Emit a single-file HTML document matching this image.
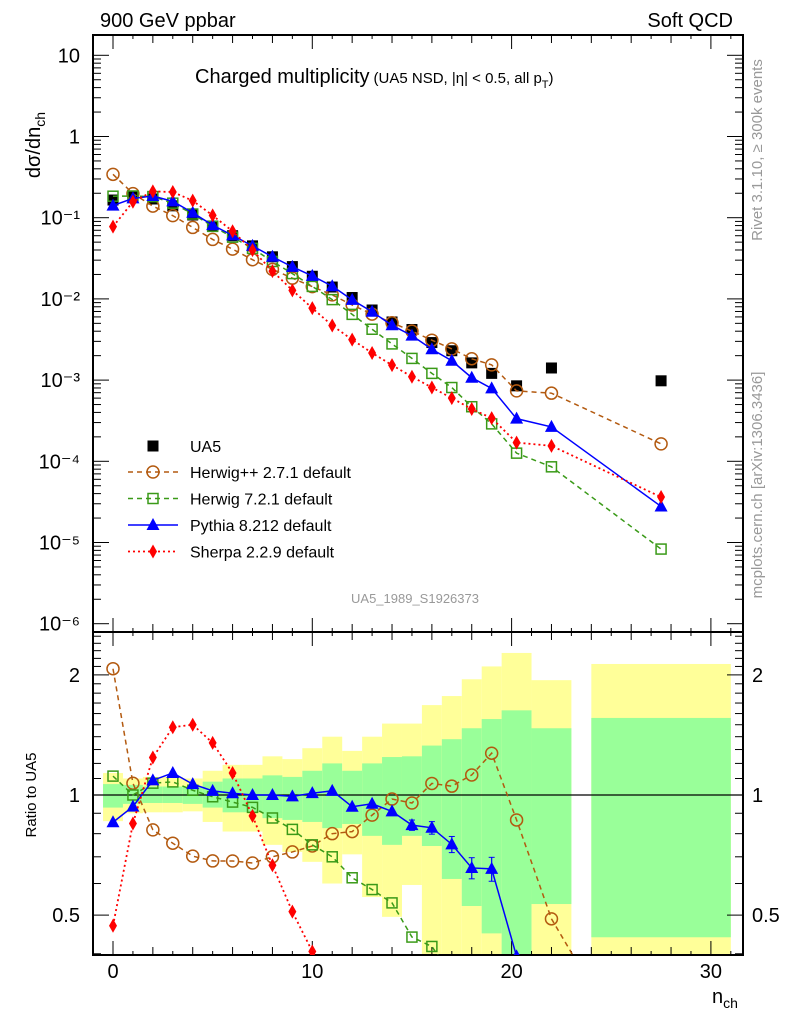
<!DOCTYPE html>
<html><head><meta charset="utf-8"><style>
html,body{margin:0;padding:0;background:#fff;overflow:hidden;width:786px;height:1024px}
svg{display:block;font-family:"Liberation Sans",sans-serif}
</style></head><body>
<svg id="c" width="786" height="1024" viewBox="0 0 786 1024" xmlns="http://www.w3.org/2000/svg">
<defs>
<clipPath id="clipTop"><rect x="93" y="35" width="650" height="597"/></clipPath>
<clipPath id="clipRat"><rect x="93" y="632" width="650" height="323"/></clipPath>
</defs>
<g id="bands" clip-path="url(#clipRat)"></g>
<g id="frame"></g>
<g id="top" clip-path="url(#clipTop)"></g>
<g id="rat" clip-path="url(#clipRat)"></g>
<g id="labels">
<text x="100" y="27" font-size="20">900 GeV ppbar</text>
<text x="733" y="27" font-size="20" text-anchor="end">Soft QCD</text>
<text x="195" y="83" font-size="20">Charged multiplicity<tspan font-size="15" dx="4">(UA5 NSD, |η| &lt; 0.5, all p</tspan><tspan font-size="11" dy="5">T</tspan><tspan font-size="15" dy="-5">)</tspan></text>
<text transform="translate(40,112) rotate(-90)" font-size="20" text-anchor="end">dσ/dn<tspan font-size="14" dy="5">ch</tspan></text>
<text transform="translate(36,795) rotate(-90)" font-size="15" text-anchor="middle">Ratio to UA5</text>
<text x="712" y="1003" font-size="20">n<tspan font-size="14" dy="5">ch</tspan></text>
<text transform="translate(762,150) rotate(-90)" font-size="15" fill="#999" text-anchor="middle">Rivet 3.1.10, ≥ 300k events</text>
<text transform="translate(762,485) rotate(-90)" font-size="15" fill="#999" text-anchor="middle">mcplots.cern.ch [arXiv:1306.3436]</text>
<text x="415" y="603" font-size="13" fill="#999" text-anchor="middle">UA5_1989_S1926373</text>
</g>
<g id="legend"></g>
</svg>
<script>
const xs = [0,1,2,3,4,5,6,7,8,9,10,11,12,13,14,15,16,17,18,19,20.25,22,27.5];
const binLo = [-0.5,0.5,1.5,2.5,3.5,4.5,5.5,6.5,7.5,8.5,9.5,10.5,11.5,12.5,13.5,14.5,15.5,16.5,17.5,18.5,19.5,21,24];
const binHi = [0.5,1.5,2.5,3.5,4.5,5.5,6.5,7.5,8.5,9.5,10.5,11.5,12.5,13.5,14.5,15.5,16.5,17.5,18.5,19.5,21,23,31];
const ua5 = [0.165,0.185,0.17,0.14,0.108,0.079,0.06,0.045,0.033,0.025,0.019,0.014,0.0104,0.0073,0.0052,0.0042,0.0029,0.0023,0.00163,0.00121,0.00085,0.00141,0.00098];
const herwigpp = [0.342,0.198,0.139,0.106,0.0759,0.054,0.041,0.0304,0.0231,0.018,0.01416,0.0112,0.00842,0.0065,0.00508,0.00401,0.0031,0.00242,0.00183,0.00154,0.000736,0.00069,0.000164];
const herwig7 = [0.184,0.185,0.182,0.151,0.111,0.0782,0.0576,0.0419,0.0289,0.0205,0.01425,0.0098,0.00645,0.00423,0.00279,0.00185,0.00121,0.00081,0.00047,0.000289,0.000126,0.0000855,0.0000083];
const pythia = [0.141,0.173,0.185,0.159,0.115,0.0809,0.0606,0.045,0.033,0.0248,0.0192,0.01434,0.00972,0.00694,0.00473,0.00353,0.0024,0.00173,0.00107,0.00079,0.000335,0.000265,0.0000278];
const pythiaRatioErr = [0,0,0,0,0,0,0,0,0,0,0,0,0,0,0,0.025,0.03,0.035,0.04,0.045,0,0,0];
const sherpa = [0.0776,0.157,0.211,0.207,0.162,0.1067,0.0681,0.0399,0.022,0.01275,0.0077,0.0047,0.00315,0.00216,0.00153,0.0011,0.00081,0.0006,0.00044,0.00034,0.00017,0.000155,0.0000363];
const yellowHi = [1.135,1.10,1.11,1.11,1.10,1.15,1.19,1.19,1.25,1.23,1.31,1.40,1.29,1.40,1.51,1.51,1.68,1.77,1.95,2.10,2.27,1.94,2.13];
const greenHi = [1.065,1.06,1.05,1.05,1.05,1.08,1.10,1.10,1.12,1.11,1.15,1.20,1.15,1.20,1.245,1.25,1.33,1.38,1.47,1.55,1.63,1.47,1.56];
const greenLo = [0.93,0.95,0.955,0.955,0.95,0.93,0.905,0.905,0.875,0.866,0.856,0.826,0.846,0.79,0.75,0.79,0.745,0.616,0.527,0.45,0.35,0.533,0.44];
const yellowLo = [0.86,0.90,0.905,0.905,0.91,0.856,0.81,0.81,0.75,0.72,0.68,0.60,0.71,0.555,0.495,0.595,0.35,0.35,0.35,0.35,0.35,0.35,0.35];
const yTickLabels = ["10","1","10⁻¹","10⁻²","10⁻³","10⁻⁴","10⁻⁵","10⁻⁶"];
const xTickLabels = ["0","10","20","30"];
const ratioTickLabels = ["0.5","1","2"];

const NS="http://www.w3.org/2000/svg";
const X=v=>113+19.93*v;
const Y=v=>136.5-81.2*Math.log10(v);
const R=v=>795-399*Math.log10(v);
function mk(parent,tag,attrs){const e=document.createElementNS(NS,tag);for(const k in attrs)e.setAttribute(k,attrs[k]);document.getElementById(parent).appendChild(e);return e;}

for(let i=0;i<xs.length;i++){
  let e=mk('bands','rect',{x:X(binLo[i]),y:R(yellowHi[i]),width:X(binHi[i])-X(binLo[i]),height:R(yellowLo[i])-R(yellowHi[i]),fill:'#ffff99'});
  
  
  e=mk('bands','rect',{x:X(binLo[i]),y:R(greenHi[i]),width:X(binHi[i])-X(binLo[i]),height:R(greenLo[i])-R(greenHi[i]),fill:'#99ff99'});
  
  
}
let f=mk('frame','rect',{x:93,y:35,width:650,height:920,fill:'none',stroke:'#000','stroke-width':2});


mk('frame','line',{x1:93,x2:743,y1:632,y2:632,stroke:'#000','stroke-width':2});
mk('frame','line',{x1:93,x2:743,y1:R(1),y2:R(1),stroke:'#000','stroke-width':1.2});
for(let v=-1;v<=31;v++){
  const L=v%10===0?14:(v%2===0?8:4);
  [[35,1],[632,-1],[632,1],[955,-1]].forEach(([y0,d])=>mk('frame','line',{x1:X(v),x2:X(v),y1:y0,y2:y0+d*L,stroke:'#000','stroke-width':1}));
}
xTickLabels.forEach((t,i)=>{const e=mk('frame','text',{x:X(i*10),y:978,'font-size':20,'text-anchor':'middle'});e.textContent=t;
  
  });
for(let d=-6;d<=1;d++){
  for(let m=1;m<=9;m++){const v=m*Math.pow(10,d);const y=Y(v);if(y<35||y>632)continue;
    const L=m===1?16:8;
    mk('frame','line',{x1:93,x2:93+L,y1:y,y2:y,stroke:'#000'});
    mk('frame','line',{x1:743,x2:743-L,y1:y,y2:y,stroke:'#000'});}
}
yTickLabels.forEach((t,i)=>{const e=mk('frame','text',{x:80,y:Y(Math.pow(10,1-i))+7,'font-size':20,'text-anchor':'end'});e.textContent=t;
  
  });
for(let k=4;k<=25;k++){const v=k/10;const y=R(v);if(y<632||y>955)continue;
  const L=(v===0.5||v===1||v===2)?16:8;
  mk('frame','line',{x1:93,x2:93+L,y1:y,y2:y,stroke:'#000'});
  mk('frame','line',{x1:743,x2:743-L,y1:y,y2:y,stroke:'#000'});}
[0.5,1,2].forEach((v,i)=>{[[80,'end'],[752,'start']].forEach(([x,a])=>{const e=mk('frame','text',{x:x,y:R(v)+7,'font-size':20,'text-anchor':a});e.textContent=ratioTickLabels[i];
  
  });});

function marker(g,type,x,y,col){
  let e;
  if(type==='sq') e=mk(g,'rect',{x:x-5.5,y:y-5.5,width:11,height:11,fill:'#000'});
  else if(type==='circ') e=mk(g,'circle',{cx:x,cy:y,r:6,fill:'none',stroke:col,'stroke-width':1.5});
  else if(type==='osq') e=mk(g,'rect',{x:x-5,y:y-5,width:10,height:10,fill:'none',stroke:col,'stroke-width':1.5});
  else if(type==='tri') e=mk(g,'polygon',{points:`${x},${y-7} ${x-6.5},${y+5} ${x+6.5},${y+5}`,fill:col});
  else e=mk(g,'polygon',{points:`${x},${y-7} ${x-4},${y} ${x},${y+7} ${x+4},${y}`,fill:col});
  return e;
}
const series=[
  {name:'herwigpp',vals:herwigpp,col:'#b35a10',dash:'5,4',m:'circ',label:'Herwig++ 2.7.1 default',w:1.5},
  {name:'herwig7',vals:herwig7,col:'#3a9a18',dash:'5,4',m:'osq',label:'Herwig 7.2.1 default',w:1.5},
  {name:'pythia',vals:pythia,col:'#0000ff',dash:'',m:'tri',label:'Pythia 8.212 default',w:1.5},
  {name:'sherpa',vals:sherpa,col:'#ff0000',dash:'2,3',m:'dia',label:'Sherpa 2.2.9 default',w:1.8}
];
ua5.forEach((v,i)=>{const e=marker('top','sq',X(xs[i]),Y(v));
  
  });
series.forEach(s=>{
  const pts=s.vals.map((v,i)=>X(xs[i])+','+Y(v)).join(' ');
  let l=mk('top','polyline',{points:pts,fill:'none',stroke:s.col,'stroke-width':s.w,'stroke-dasharray':s.dash});
  
  
  s.vals.forEach((v,i)=>{const e=marker('top',s.m,X(xs[i]),Y(v),s.col);
    
    });
  const rp=s.vals.map((v,i)=>X(xs[i])+','+R(v/ua5[i])).join(' ');
  l=mk('rat','polyline',{points:rp,fill:'none',stroke:s.col,'stroke-width':s.w,'stroke-dasharray':s.dash});
  
  
  s.vals.forEach((v,i)=>{const r=v/ua5[i];
    if(s.name==='pythia'&&pythiaRatioErr[i]>0&&r-pythiaRatioErr[i]>0){const x=X(xs[i]);
      mk('rat','line',{x1:x,x2:x,y1:R(r+pythiaRatioErr[i]),y2:R(r-pythiaRatioErr[i]),stroke:s.col,'stroke-width':1.2});
      mk('rat','line',{x1:x-3,x2:x+3,y1:R(r+pythiaRatioErr[i]),y2:R(r+pythiaRatioErr[i]),stroke:s.col});
      mk('rat','line',{x1:x-3,x2:x+3,y1:R(r-pythiaRatioErr[i]),y2:R(r-pythiaRatioErr[i]),stroke:s.col});}
    const e=marker('rat',s.m,X(xs[i]),R(r),s.col);
    
    });
});
let e=marker('legend','sq',153,446);


let t=mk('legend','text',{x:190,y:452,'font-size':16});t.textContent='UA5';


series.forEach((s,k)=>{const y=472+k*26.5;
  mk('legend','line',{x1:128,x2:178,y1:y,y2:y,stroke:s.col,'stroke-width':s.w,'stroke-dasharray':s.dash});
  const m=marker('legend',s.m,153,y,s.col);
  
  
  const tx=mk('legend','text',{x:190,y:y+6,'font-size':16});tx.textContent=s.label;
  
  
});
</script>
</body></html>
